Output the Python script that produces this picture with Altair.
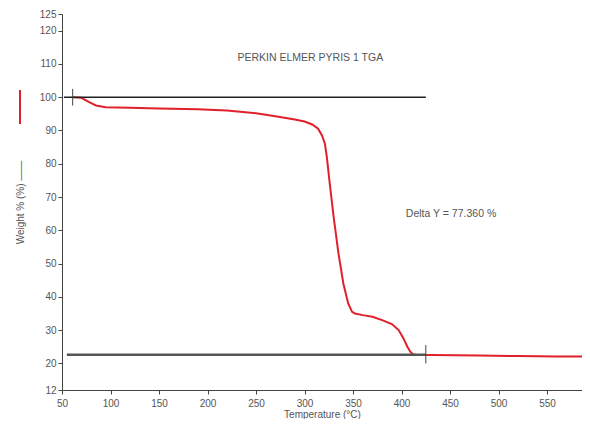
import altair as alt
import pandas as pd

# TGA curve (temperature °C, weight %)
temp = [60, 70, 78, 85, 95, 120, 150, 190, 220, 250, 270, 290, 300, 308, 314, 318, 321, 323, 326, 330, 335, 340, 345, 349, 352, 360, 370, 380, 390, 397, 402, 406, 409, 412, 415, 430, 480, 520, 560, 589]
weight = [100, 99.8, 98.5, 97.5, 97.0, 96.8, 96.6, 96.4, 96.0, 95.2, 94.3, 93.3, 92.7, 91.8, 90.5, 88.5, 86.0, 82.0, 74.0, 64.0, 53.0, 44.0, 38.0, 35.5, 35.0, 34.5, 34.0, 33.0, 31.8, 30.0, 27.5, 25.0, 23.5, 22.7, 22.6, 22.5, 22.4, 22.2, 22.1, 22.1]

upper_x = [52, 425]
upper_y = [100, 100]
lower_x = [55, 425]
lower_y = [22.6, 22.6]
marker_x = [61, 425]
marker_y1 = [97.5, 20.0]
marker_y2 = [102.5, 25.5]

y_ticks = [12, 20, 30, 40, 50, 60, 70, 80, 90, 100, 110, 120, 125]
x_ticks = [50, 100, 150, 200, 250, 300, 350, 400, 450, 500, 550]

labels_text = ["PERKIN ELMER PYRIS 1 TGA", "Delta Y = 77.360 %"]
labels_x = [306, 451]
labels_y = [111.7, 64.9]

FONT = "Liberation Sans"

xs = alt.Scale(domain=[50, 586], nice=False, clamp=False)
ys = alt.Scale(domain=[12, 125], nice=False, zero=False)

curve = pd.DataFrame({"t": temp, "w": weight})
upper = pd.DataFrame({"t": upper_x, "w": upper_y})
lower = pd.DataFrame({"t": lower_x, "w": lower_y})
marks = pd.DataFrame({"t": marker_x, "w1": marker_y1, "w2": marker_y2})
labels = pd.DataFrame({"t": labels_x, "w": labels_y, "txt": labels_text})

xaxis = alt.Axis(values=x_ticks, title="Temperature (°C)", grid=False,
                 labelColor="#555", titleColor="#555", labelFontSize=10, titleFontSize=10,
                 labelFont=FONT, titleFont=FONT, domainColor="#444", tickColor="#444",
                 tickSize=4, titlePadding=1, labelPadding=4, titleFontWeight="normal",
                 labelOverlap=False, labelFlush=False)
yaxis = alt.Axis(values=y_ticks, title="Weight % (%) ——", grid=False,
                 labelColor="#555", titleColor="#555", labelFontSize=10, titleFontSize=10,
                 labelFont=FONT, titleFont=FONT, domainColor="#444", tickColor="#444",
                 tickSize=4, titlePadding=14, titleFontWeight="normal",
                 labelOverlap=False, labelFlush=False)

X = lambda f: alt.X(f, type="quantitative", scale=xs, axis=xaxis)
Y = lambda f: alt.Y(f, type="quantitative", scale=ys, axis=yaxis)

base_curve = alt.Chart(curve).mark_line(color="#e0202a", strokeWidth=2, clip=True).encode(
    x=X("t"), y=Y("w"), order="t:Q")

upper_line = alt.Chart(upper).mark_line(color="#222", strokeWidth=1.6).encode(
    x=X("t"), y=Y("w"))
lower_line = alt.Chart(lower).mark_line(color="#555", strokeWidth=2.6).encode(
    x=X("t"), y=Y("w"))
marker_rules = alt.Chart(marks).mark_rule(color="#444", strokeWidth=1).encode(
    x=X("t"), y=Y("w1"), y2="w2:Q")

text_layer = alt.Chart(labels).mark_text(font=FONT, fontSize=10.5, color="#555").encode(
    x=X("t"), y=Y("w"), text="txt:N")

legend_swatch = alt.Chart(pd.DataFrame({"k": [0]})).mark_rule(color="#e0202a", strokeWidth=2).encode(
    x=alt.value(-42), y=alt.value(76), y2=alt.value(110))

chart = alt.layer(
    base_curve, upper_line, lower_line, marker_rules, text_layer, legend_swatch
).properties(
    width=520, height=376,
    padding={"left": 54, "top": 6, "right": 0, "bottom": 29},
    autosize=alt.AutoSizeParams(type="none"),
    background="white",
).configure_view(stroke=None)

chart.save("out.html", embed_options={"renderer": "svg", "actions": False})
